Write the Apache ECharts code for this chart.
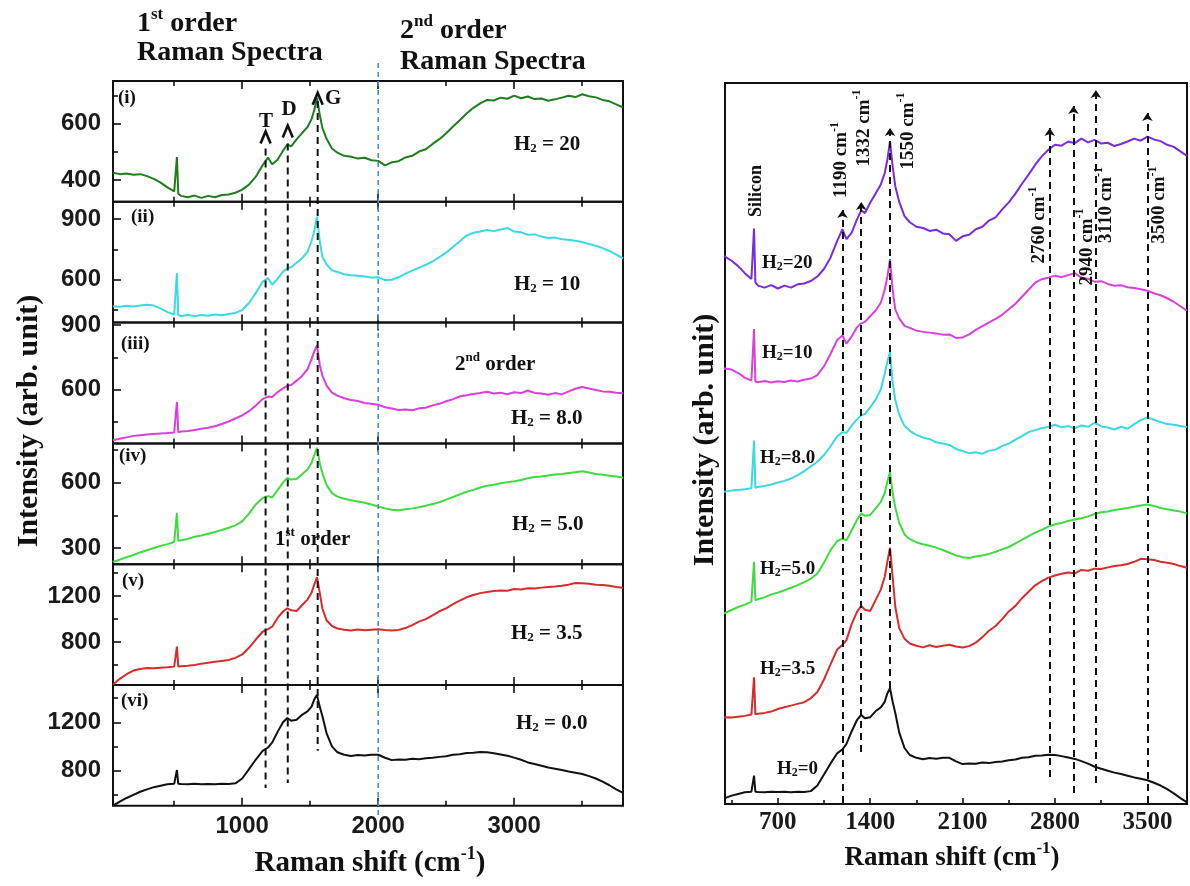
<!DOCTYPE html>
<html>
<head>
<meta charset="utf-8">
<script src="https://cdn.jsdelivr.net/npm/echarts@6/dist/echarts.min.js"></script>
<style>
  html, body { margin: 0; padding: 0; background: #fff; }
  #chart { width: 1190px; height: 886px; }
</style>
</head>
<body>
<div id="chart"></div>
<script>
// Raman shift sampling points (cm^-1), shared by all six spectra
const ramanShift = [50,100,150,200,250,300,350,400,450,500,
  510,520,530,
  550,600,650,700,750,800,850,900,950,1000,1050,1100,1150,
  1190,1220,1260,1300,1332,1360,1400,1440,1480,1510,1530,1550,1570,1590,1620,1660,
  1700,1750,1800,1850,1900,1950,2000,2050,2100,2150,2200,2250,2300,2350,2400,2450,
  2500,2550,2600,2650,2700,2750,2800,2850,2900,2950,3000,3050,3100,3150,3200,3250,
  3300,3350,3400,3450,3500,3550,3600,3650,3700,3750,3800];

// Measured intensities (arb. unit) for each H2 flow
const specH2_20 = [426,421,423,419,421,414,404,391,374,360,
  358,482,352,
  344,339,345,337,344,339,347,349,355,366,384,412,452,
  480,456,472,504,526,519,544,566,588,616,648,692,632,584,546,512,
  497,486,483,476,479,470,468,452,463,467,480,486,501,509,528,545,566,590,612,636,
  656,672,684,682,692,688,699,690,696,687,689,681,686,692,699,694,704,697,693,684,679,668,657];
const specH2_10 = [469,466,471,468,473,476,472,458,440,428,
  426,633,424,
  421,426,420,425,422,428,424,431,436,450,485,535,590,
  608,575,604,640,656,662,684,706,738,790,842,912,790,712,676,646,
  638,627,622,619,616,611,612,598,600,612,630,645,660,674,690,712,734,762,790,818,
  832,838,846,840,848,856,838,834,822,824,813,806,808,800,797,792,786,776,768,756,742,724,706];
const specH2_8 = [365,372,378,385,388,391,394,396,398,401,
  400,543,402,
  405,408,412,418,423,430,440,452,466,480,500,526,556,
  568,566,588,606,618,622,642,664,695,742,778,806,716,664,620,586,
  572,560,552,547,538,534,530,518,512,505,508,504,513,516,527,534,546,556,568,574,
  580,584,590,582,586,579,588,584,596,585,582,576,584,578,592,604,612,605,598,592,590,586,583];
const specH2_5 = [236,247,258,268,280,290,300,310,318,328,
  330,461,333,
  336,342,352,358,366,374,383,393,404,422,458,500,530,
  538,532,566,600,622,614,617,638,660,690,728,760,690,642,590,552,
  536,526,519,514,508,500,491,482,476,473,478,482,487,494,502,510,522,534,546,558,
  567,578,586,590,597,602,606,612,620,626,628,633,637,640,644,648,652,647,640,636,632,628,622];
const specH2_3p5 = [430,480,520,552,566,574,572,576,580,586,
  584,760,588,
  590,594,600,612,620,628,636,644,662,692,750,822,890,
  912,934,1010,1066,1094,1076,1070,1120,1170,1230,1300,1366,1230,1090,990,940,
  918,908,900,910,902,908,912,904,900,906,922,948,978,1000,1032,1068,1094,1130,1160,1190,
  1210,1226,1236,1244,1250,1246,1262,1258,1268,1266,1274,1280,1284,1290,1300,1314,1312,1308,1300,1296,1290,1280,1272];
const specH2_0 = [506,540,570,596,622,642,660,672,684,688,
  690,803,688,
  686,684,688,685,687,684,688,686,692,732,810,890,962,
  990,1030,1120,1200,1236,1212,1220,1262,1290,1330,1390,1428,1330,1250,1110,1000,
  950,930,920,928,924,930,930,905,885,890,888,896,892,900,904,912,918,930,934,944,
  946,952,950,942,932,922,906,888,866,852,838,824,814,802,790,780,770,752,732,706,676,642,612];

const spectra = [specH2_20, specH2_10, specH2_8, specH2_5, specH2_3p5, specH2_0];
const flowLeft = ['20', '10', '8.0', '5.0', '3.5', '0.0'];
const flowRight = ['20', '10', '8.0', '5.0', '3.5', '0'];
const romanTags = ['(i)', '(ii)', '(iii)', '(iv)', '(v)', '(vi)'];

// Stacked panel: vertical offset and scale of each spectrum
const stackOffset = [376, 316, 181, 104, -36, -84];
const stackScale = [0.414, 0.251, 0.336, 0.30, 0.214, 0.14];

// Intensity ranges and ticks of the six small panels
const panelMin = [323, 388, 350, 226, 426, 505];
const panelMax = [751, 985, 912, 780, 1478, 1510];
const panelYLabels = [[400, 600], [600, 900], [600, 900], [300, 600], [800, 1200], [800, 1200]];
const panelYMinor = [[500, 700], [450, 750], [450, 750], [450, 750], [600, 1000, 1400], [600, 1000, 1400]];
const leftXMajor = [1000, 2000, 3000];
const leftXMinor = [500, 1500, 2500, 3500];
const rightXMajor = [700, 1400, 2100, 2800, 3500];
const rightXMinor = [350, 1050, 1750, 2450, 3150];

// Band positions: T, D, G in the small panels, and the labelled bands in the stacked panel
const tdgBands = [1172, 1335, 1555];
const tdgTopValue = [512, 530, 680];      // where each line starts in panel (i)
const tdgBottomValue = [653, 694, 963];   // where each line stops in panel (vi)
const tdgArrowValue = [551, 572, 688];    // chevron positions in panel (i)
const orderBoundary = 2000;
const bands = [1190, 1332, 1550, 2760, 2940, 3110, 3500];
const bandLow = [1, 52, 116, 27, 11, 21, 1];
const bandHigh = [594, 602, 676, 676, 698, 714, 691];
const bandLabelX = [1167, 1340, 1672, 2668, 3030, 3173, 3580];
const bandLabelY = [644, 676, 673, 579, 557, 599, 599];
const siliconLabel = [526, 613];

const leftColors = ['#1f7d1f', '#38dbe3', '#dd3ddd', '#3fdc3f', '#d92b2b', '#111111'];
const rightColors = ['#7a2be0', '#dc3fdc', '#3ad8e0', '#3fdc3f', '#d92b2b', '#111111'];

const serif = "'Liberation Serif','Times New Roman',serif";
const sans = "'Liberation Sans',Arial,sans-serif";

// Layout of the two figure halves
const PANEL_LEFT = 113, PANEL_W = 510, PANEL_TOP = 81, PANEL_H = 120.8;
const STACK = { left: 725, top: 83, width: 462, height: 721 };

const grids = [], xAxes = [], yAxes = [], series = [];
const tickLine = { color: '#111', width: 1.6 };
const plain = (v) => String(v);

function addX(g, min, max, pos, ticks, len, labels, labelStyle) {
  xAxes.push({
    gridIndex: g, type: 'value', min: min, max: max, position: pos,
    axisLine: { show: false }, splitLine: { show: false },
    axisTick: { show: true, inside: true, length: len, customValues: ticks, lineStyle: tickLine },
    axisLabel: labels ? Object.assign({ show: true, customValues: labels, formatter: plain }, labelStyle) : { show: false }
  });
  return xAxes.length - 1;
}
function addY(g, min, max, ticks, len, labels, labelStyle) {
  yAxes.push({
    gridIndex: g, type: 'value', min: min, max: max, position: 'left',
    axisLine: { show: false }, splitLine: { show: false },
    axisTick: ticks ? { show: true, inside: true, length: len, customValues: ticks, lineStyle: tickLine } : { show: false },
    axisLabel: labels ? Object.assign({ show: true, customValues: labels, formatter: plain }, labelStyle) : { show: false }
  });
  return yAxes.length - 1;
}

const leftXLabelStyle = { fontFamily: sans, fontWeight: 'bold', fontSize: 24, color: '#1a1a1a', margin: 9 };
const leftYLabelStyle = { fontFamily: sans, fontWeight: 'bold', fontSize: 24, color: '#1a1a1a', margin: 12 };
const rightXLabelStyle = { fontFamily: serif, fontWeight: 'bold', fontSize: 25, color: '#1a1a1a', margin: 6 };

const panelAxes = [];
for (let g = 0; g < 6; g++) {
  grids.push({
    left: PANEL_LEFT, top: PANEL_TOP + g * PANEL_H, width: PANEL_W, height: PANEL_H,
    show: true, borderColor: '#111', borderWidth: 2, backgroundColor: 'rgba(0,0,0,0)',
    containLabel: false, outerBoundsMode: 'none'
  });
  const xi = addX(g, 50, 3800, 'bottom', leftXMajor, 8, g === 5 ? leftXMajor : null, leftXLabelStyle);
  addX(g, 50, 3800, 'bottom', leftXMinor, 5, null);
  addX(g, 50, 3800, 'top', leftXMajor, 8, null);
  addX(g, 50, 3800, 'top', leftXMinor, 5, null);
  const yi = addY(g, panelMin[g], panelMax[g], panelYLabels[g], 8, panelYLabels[g], leftYLabelStyle);
  addY(g, panelMin[g], panelMax[g], panelYMinor[g], 5, null);
  panelAxes.push([xi, yi]);
  series.push({
    type: 'line', xAxisIndex: xi, yAxisIndex: yi,
    data: ramanShift.map((x, k) => [x, spectra[g][k]]),
    showSymbol: false, symbol: 'none', silent: true, clip: true,
    lineStyle: { color: leftColors[g], width: 2 }, itemStyle: { color: leftColors[g] }
  });
}

// Stacked panel
grids.push(Object.assign({
  show: true, borderColor: '#111', borderWidth: 2, backgroundColor: 'rgba(0,0,0,0)',
  containLabel: false, outerBoundsMode: 'none'
}, STACK));
const sg = grids.length - 1;
const sx = addX(sg, 300, 3800, 'bottom', rightXMajor, 6, rightXMajor, rightXLabelStyle);
addX(sg, 300, 3800, 'bottom', rightXMinor, 4, null);
const sy = addY(sg, 0, STACK.height, null, 0, null);
for (let j = 0; j < 6; j++) {
  const s = {
    type: 'line', xAxisIndex: sx, yAxisIndex: sy,
    data: ramanShift.map((x, k) => [x, stackOffset[j] + stackScale[j] * spectra[j][k]]),
    showSymbol: false, symbol: 'none', silent: true, clip: true,
    lineStyle: { color: rightColors[j], width: 2 }, itemStyle: { color: rightColors[j] }
  };
  if (j === 5) {
    s.markLine = {
      silent: true, symbol: ['none', 'arrow'], symbolSize: 8,
      label: { show: false }, emphasis: { disabled: true },
      lineStyle: { color: '#111', type: [7, 5], width: 2 },
      data: bands.map((b, k) => [{ coord: [b, bandLow[k]] }, { coord: [b, bandHigh[k]] }])
    };
  }
  series.push(s);
}

const chart = echarts.init(document.getElementById('chart'), null, { renderer: 'canvas' });
chart.setOption({
  animation: false,
  backgroundColor: '#ffffff',
  grid: grids, xAxis: xAxes, yAxis: yAxes, series: series
});

// Rich text styles: m = main, sup = superscript, sub = subscript
function rich(size, weight) {
  const w = weight || 'bold';
  const small = Math.round(size * 0.62);
  return {
    m: { fontSize: size, fontWeight: w, fontFamily: serif, fill: '#111', lineHeight: Math.round(size * 1.15), verticalAlign: 'bottom' },
    sup: { fontSize: small, fontWeight: w, fontFamily: serif, fill: '#111', verticalAlign: 'top' },
    sub: { fontSize: small, fontWeight: w, fontFamily: serif, fill: '#111', verticalAlign: 'bottom' }
  };
}
function label(text, x, y, size, align, rotate, weight) {
  const el = {
    type: 'text', x: x, y: y, z: 120, silent: true,
    style: {
      text: text, rich: rich(size, weight),
      align: align || 'center', textAlign: align || 'center',
      verticalAlign: 'middle', textVerticalAlign: 'middle'
    }
  };
  if (rotate) el.rotation = Math.PI / 2;
  return el;
}

const px = (xi, yi, x, y) => chart.convertToPixel({ xAxisIndex: xi, yAxisIndex: yi }, [x, y]);
const gfx = [];

// Boundary between first- and second-order regions
const bTop = px(panelAxes[0][0], panelAxes[0][1], orderBoundary, panelMax[0]);
const bBot = px(panelAxes[5][0], panelAxes[5][1], orderBoundary, panelMin[5]);
gfx.push({ type: 'line', z: 110, silent: true,
  shape: { x1: bTop[0], y1: bTop[1] - 18, x2: bBot[0], y2: bBot[1] + 10 },
  style: { stroke: '#4d8ec9', lineWidth: 1.6, lineDash: [5, 4] } });

// T, D, G lines running through all six panels, with chevrons in panel (i)
tdgBands.forEach((b, k) => {
  const a = px(panelAxes[0][0], panelAxes[0][1], b, tdgTopValue[k]);
  const z = px(panelAxes[5][0], panelAxes[5][1], b, tdgBottomValue[k]);
  gfx.push({ type: 'line', z: 110, silent: true,
    shape: { x1: a[0], y1: a[1], x2: z[0], y2: z[1] },
    style: { stroke: '#111', lineWidth: 2, lineDash: [7, 5] } });
  const c = px(panelAxes[0][0], panelAxes[0][1], b, tdgArrowValue[k]);
  gfx.push({ type: 'polyline', z: 111, silent: true,
    shape: { points: [[c[0] - 5, c[1] + 6], [c[0], c[1] - 6], [c[0] + 5, c[1] + 6]] },
    style: { stroke: '#111', lineWidth: 2.6, fill: null } });
});
gfx.push(label('{m|T}', 266, 120, 21));
gfx.push(label('{m|D}', 289, 108, 21));
gfx.push(label('{m|G}', 325, 97, 21, 'left'));

// Panel tags and flow labels
const tagY = [97, 216, 343, 455, 580, 700];
const tagX = [118, 131, 121, 119, 122, 121];
const flowY = [143, 283, 417, 523, 632, 722];
const flowX = [514, 514, 511, 512, 511, 516];
for (let g = 0; g < 6; g++) {
  gfx.push(label('{m|' + romanTags[g] + '}', tagX[g], tagY[g], 19, 'left'));
  gfx.push(label('{m|H}{sub|2}{m| = ' + flowLeft[g] + '}', flowX[g], flowY[g], 21, 'left'));
}
gfx.push(label('{m|2}{sup|nd}{m| order}', 455, 363, 21, 'left'));
gfx.push(label('{m|1}{sup|st}{m| order}', 275, 538, 21, 'left'));

// Headings above the small panels
gfx.push(label('{m|1}{sup|st}{m| order}', 137, 22, 28, 'left'));
gfx.push(label('{m|Raman Spectra}', 137, 51, 28, 'left'));
gfx.push(label('{m|2}{sup|nd}{m| order}', 400, 29, 28, 'left'));
gfx.push(label('{m|Raman Spectra}', 400, 60, 28, 'left'));

// Axis titles
gfx.push(label('{m|Intensity (arb. unit)}', 27, 421, 30, 'center', true));
gfx.push(label('{m|Raman shift (cm}{sup|-1}{m|)}', 370, 862, 29));
gfx.push(label('{m|Intensity (arb. unit)}', 703, 440, 30, 'center', true));
gfx.push(label('{m|Raman shift (cm}{sup|-1}{m|)}', 952, 856, 27));

// Stacked panel labels
const sil = px(sx, sy, siliconLabel[0], siliconLabel[1]);
gfx.push(label('{m|Silicon}', sil[0], sil[1], 18, 'center', true));
bands.forEach((b, k) => {
  const p = px(sx, sy, bandLabelX[k], bandLabelY[k]);
  gfx.push(label('{m|' + b + ' cm}{sup|-1}', p[0], p[1], 19, 'center', true));
});
const stackLabelX = [762, 762, 760, 760, 760, 777];
const stackLabelY = [262, 352, 457, 568, 668, 768];
for (let j = 0; j < 6; j++) {
  gfx.push(label('{m|H}{sub|2}{m|=' + flowRight[j] + '}', stackLabelX[j], stackLabelY[j], 19, 'left'));
}

chart.setOption({ graphic: gfx });
</script>
</body>
</html>
